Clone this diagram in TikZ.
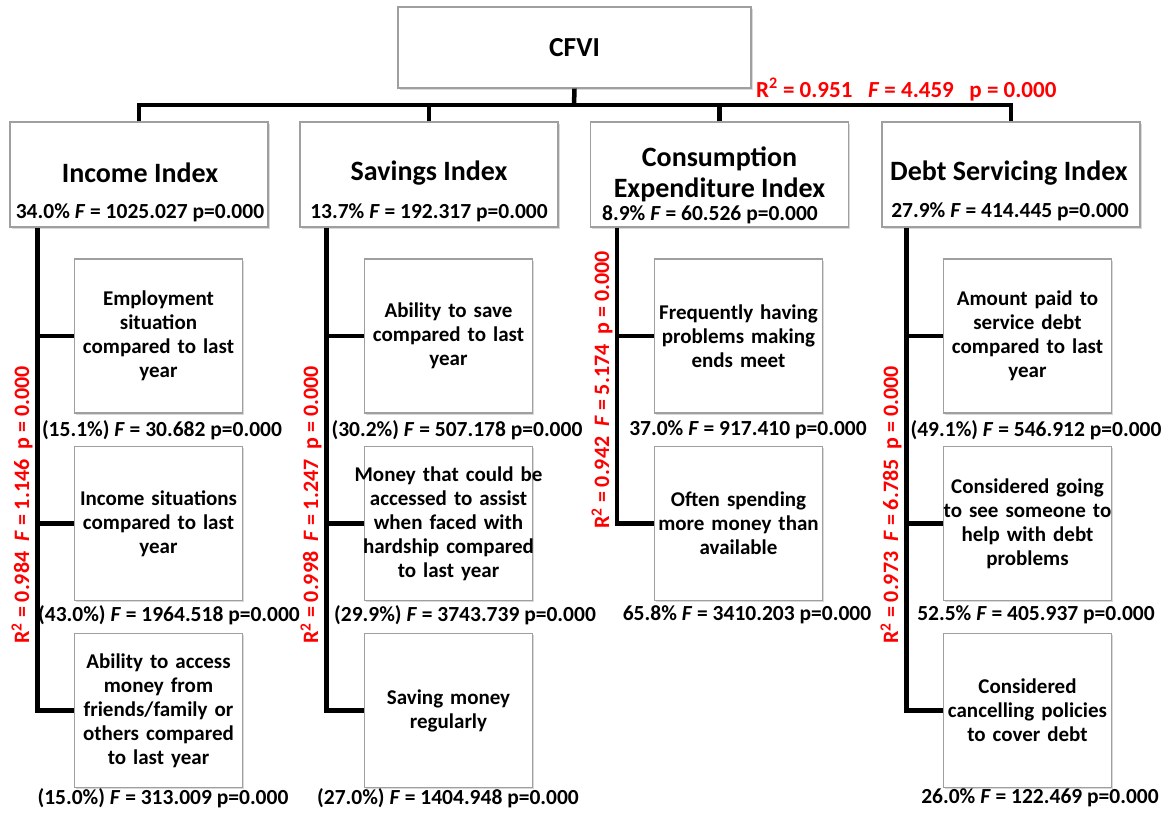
\documentclass[tikz,border=0pt]{standalone}
\usepackage{fontspec}
\setmainfont{Carlito}
\usetikzlibrary{shadows}
\begin{document}
\begin{tikzpicture}[x=1pt,y=-1pt,
  box/.style={draw=gray!75, line width=1.2pt, fill=white, inner sep=0pt,
    drop shadow={opacity=0.3, shadow xshift=1.5pt, shadow yshift=-1.8pt}},
  topbox/.style={box, minimum width=353pt, minimum height=81pt, font=\fontsize{27.5}{30}\selectfont\bfseries},
  idxbox/.style={box, minimum width=258pt, minimum height=105pt},
  childbox/.style={box, minimum width=168pt, minimum height=154pt, text width=200pt,
    inner xsep=-16pt, align=center, font=\fontsize{21}{24}\selectfont\bfseries},
  idxtitle/.style={font=\fontsize{28}{31}\selectfont\bfseries, align=center, inner sep=0pt},
  statlbl/.style={font=\fontsize{21.5}{24}\selectfont\bfseries, inner sep=0pt},
  rlabel/.style={text=red, font=\fontsize{22}{24}\selectfont\bfseries, inner sep=0pt},
  conn/.style={line width=4.5pt, black},
]
\useasboundingbox (0,0) rectangle (1170,812);

% top
\node[topbox] (cfvi) at (574.5,47.5) {CFVI};
\node[rlabel, anchor=west, font=\fontsize{23}{24}\selectfont\bfseries] (toplbl) at (756,90) {R\textsuperscript{2} = 0.951\ \ \ \textit{F} = 4.459\ \ \ p = 0.000};

% index boxes
\node[idxbox] (inc) at (139,174.5) {};
\node[idxbox] (sav) at (429,174.5) {};
\node[idxbox] (con) at (719.5,174.5) {};
\node[idxbox] (debt) at (1011,174.5) {};

\node[idxtitle] (inct) at (140,173) {Income Index};
\node[idxtitle] (savt) at (429,173) {Savings Index};
\node[idxtitle] (cont) at (719.5,174) {Consumption\\Expenditure Index};
\node[idxtitle] (debtt) at (1009,173) {Debt Servicing Index};

\node[statlbl] (incs) at (140,213) {34.0\% \textit{F} = 1025.027 p=0.000};
\node[statlbl] (savs) at (429,213) {13.7\% \textit{F} = 192.317 p=0.000};
\node[statlbl] (cons) at (710,215) {8.9\% \textit{F} = 60.526 p=0.000};
\node[statlbl] (debts) at (1010,212) {27.9\% \textit{F} = 414.445 p=0.000};

% child boxes
\node[childbox] (inc1) at (158.5,336) {Employment\\situation\\compared to last\\year};
\node[childbox] (inc2) at (158.5,523.5) {Income situations\\compared to last\\year};
\node[childbox] (inc3) at (158.5,710.5) {Ability to access\\money from\\friends/family or\\others compared\\to last year};

\node[childbox] (sav1) at (448.5,336) {Ability to save\\compared to last\\year};
\node[childbox] (sav2) at (448.5,523.5) {Money that could be\\accessed to assist\\when faced with\\hardship compared\\to last year};
\node[childbox] (sav3) at (448.5,710.5) {Saving money\\regularly};

\node[childbox] (con1) at (738.5,336) {Frequently having\\problems making\\ends meet};
\node[childbox] (con2) at (738.5,523.5) {Often spending\\more money than\\available};

\node[childbox] (debt1) at (1027.5,336) {Amount paid to\\service debt\\compared to last\\year};
\node[childbox] (debt2) at (1027.5,523.5) {Considered going\\to see someone to\\help with debt\\problems};
\node[childbox] (debt3) at (1027.5,710.5) {Considered\\cancelling policies\\to cover debt};

% child stats
\node[statlbl] (inc1s) at (162,430) {(15.1\%) \textit{F} = 30.682 p=0.000};
\node[statlbl] (inc2s) at (169,615) {(43.0\%) \textit{F} = 1964.518 p=0.000};
\node[statlbl] (inc3s) at (163,798) {(15.0\%) \textit{F} = 313.009 p=0.000};
\node[statlbl] (sav1s) at (457,430) {(30.2\%) \textit{F} = 507.178 p=0.000};
\node[statlbl] (sav2s) at (465,615) {(29.9\%) \textit{F} = 3743.739 p=0.000};
\node[statlbl] (sav3s) at (448,798) {(27.0\%) \textit{F} = 1404.948 p=0.000};
\node[statlbl] (con1s) at (748,430) {37.0\% \textit{F} = 917.410 p=0.000};
\node[statlbl] (con2s) at (747,615) {65.8\% \textit{F} = 3410.203 p=0.000};
\node[statlbl] (debt1s) at (1036,430) {(49.1\%) \textit{F} = 546.912 p=0.000};
\node[statlbl] (debt2s) at (1036,615) {52.5\% \textit{F} = 405.937 p=0.000};
\node[statlbl] (debt3s) at (1040,798) {26.0\% \textit{F} = 122.469 p=0.000};

% red vertical labels
\node[rlabel, rotate=90] (incr) at (22,505) {R\textsuperscript{2} = 0.984\ \ \textit{F} = 1.146\ \ p = 0.000};
\node[rlabel, rotate=90] (savr) at (311,505) {R\textsuperscript{2} = 0.998\ \ \textit{F} = 1.247\ \ p = 0.000};
\node[rlabel, rotate=90] (conr) at (602,390) {R\textsuperscript{2} = 0.942\ \ \textit{F} = 5.174\ \ p = 0.000};
\node[rlabel, rotate=90] (debtr) at (891,505) {R\textsuperscript{2} = 0.973\ \ \textit{F} = 6.785\ \ p = 0.000};

% connectors: top bus
\coordinate (bus) at (574,105);
\draw[conn] (cfvi.south) -- (bus);
\draw[conn] (inc.north) -- (inc.north |- bus) -- (debt.north |- bus) -- (debt.north);
\draw[conn] (sav.north) -- (sav.north |- bus);
\draw[conn] (con.north) -- (con.north |- bus);

% spines
\path (inc.south west) ++(28,0) coordinate (incS);
\path (sav.south west) ++(27,0) coordinate (savS);
\path (con.south west) ++(27,0) coordinate (conS);
\path (debt.south west) ++(25,0) coordinate (debtS);

\draw[conn] (incS) |- (inc3.west);
\draw[conn] (incS |- inc1.west) -- (inc1.west);
\draw[conn] (incS |- inc2.west) -- (inc2.west);

\draw[conn] (savS) |- (sav3.west);
\draw[conn] (savS |- sav1.west) -- (sav1.west);
\draw[conn] (savS |- sav2.west) -- (sav2.west);

\draw[conn] (conS) |- (con2.west);
\draw[conn] (conS |- con1.west) -- (con1.west);

\draw[conn] (debtS) |- (debt3.west);
\draw[conn] (debtS |- debt1.west) -- (debt1.west);
\draw[conn] (debtS |- debt2.west) -- (debt2.west);
\end{tikzpicture}
\end{document}
